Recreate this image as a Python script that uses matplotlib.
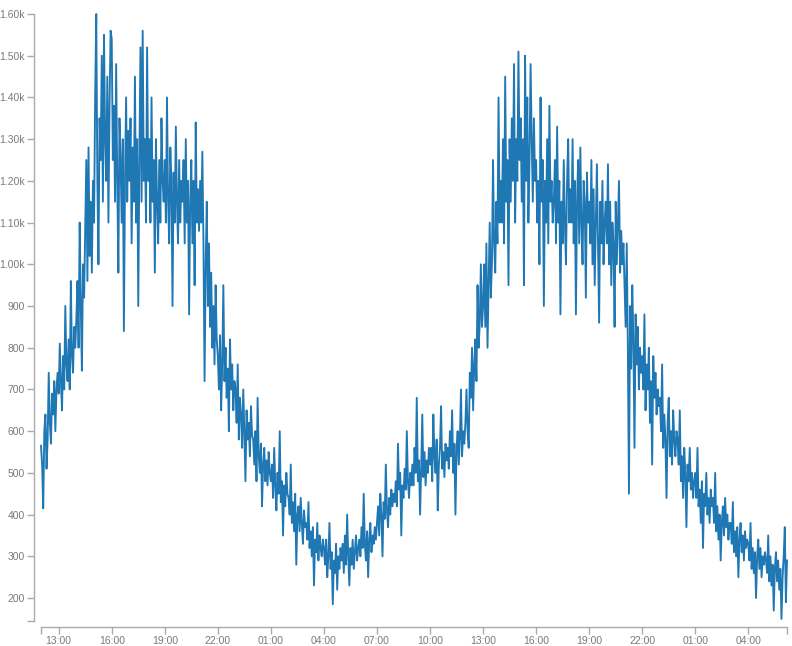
import pandas as pd
import matplotlib
matplotlib.use("Agg")
import matplotlib.pyplot as plt
import matplotlib.dates as mdates
from matplotlib.ticker import FuncFormatter, FixedLocator

# --- Configuration ---
OUTPUT_FILE = "out.png"
START_TIME = "2018-06-01 12:00"
STEP = "225s"  # one reading every 3.75 minutes
LINE_COLOR = "#1f77b4"
AXIS_COLOR = "#aaaaaa"
LABEL_COLOR = "#7a7a7a"

# --- Data (16 readings per hour) ---
day1_afternoon = [  # 12:00 - 18:00
    565, 520, 415, 600, 640, 510, 580, 740, 620, 570, 690, 640, 720, 600, 700, 740,
    690, 810, 720, 650, 780, 700, 900, 760, 720, 820, 700, 960, 780, 740, 850, 800,
    870, 960, 800, 1100, 900, 745, 1000, 920, 1080, 1250, 960, 1280, 1020, 1150, 980, 1200,
    1100, 1400, 1600, 1200, 1000, 1350, 1250, 1500, 1150, 1550, 1300, 1200, 1450, 1100, 1380, 1560,
    1540, 1250, 1380, 1150, 1480, 1200, 980, 1350, 1250, 1100, 1300, 840, 1200, 1400, 1150, 1320,
    1200, 1350, 1050, 1280, 1150, 1450, 1100, 1300, 900, 1250, 1520, 1150, 1560, 1200, 1300, 1100,
]
day1_evening = [  # 18:00 - 24:00
    1520, 1200, 1300, 1100, 1400, 1150, 1250, 980, 1300, 1150, 1050, 1250, 1100, 1350, 1200, 1150,
    1250, 1100, 1400, 1150, 1050, 1280, 1200, 900, 1220, 1100, 1330, 1150, 1050, 1250, 1100, 1200,
    1150, 1250, 1050, 1300, 1100, 1200, 880, 1150, 1250, 1050, 1200, 950, 1340, 1100, 1180, 1080,
    1200, 1100, 1270, 1050, 720, 1000, 1150, 900, 1050, 850, 980, 800, 900, 760, 950, 820,
    780, 700, 830, 650, 760, 950, 720, 800, 680, 750, 600, 820, 700, 760, 650, 720,
    700, 620, 760, 580, 680, 640, 560, 700, 600, 480, 650, 580, 620, 540, 660, 590,
]
night1 = [  # 00:00 - 06:00
    580, 520, 600, 480, 680, 540, 500, 570, 420, 520, 560, 480, 530, 470, 550, 500,
    480, 520, 440, 560, 470, 410, 500, 450, 600, 430, 480, 350, 470, 420, 500, 450,
    440, 400, 520, 380, 430, 360, 450, 280, 400, 420, 360, 440, 380, 330, 410, 370,
    380, 340, 430, 320, 360, 300, 370, 230, 340, 310, 380, 290, 350, 320, 300, 340,
    320, 280, 340, 250, 300, 380, 270, 310, 185, 290, 260, 330, 220, 300, 270, 320,
    290, 330, 260, 350, 280, 400, 300, 230, 320, 280, 340, 270, 310, 350, 290, 320,
]
day2_morning = [  # 06:00 - 12:00
    340, 300, 370, 320, 450, 330, 290, 360, 250, 340, 380, 310, 350, 330, 370, 340,
    380, 420, 350, 450, 400, 300, 430, 390, 520, 410, 370, 440, 400, 460, 420, 450,
    430, 480, 420, 570, 460, 500, 350, 470, 440, 510, 460, 600, 480, 440, 500, 470,
    520, 470, 560, 500, 680, 480, 530, 400, 510, 640, 490, 550, 470, 530, 500, 560,
    520, 560, 480, 640, 540, 500, 580, 410, 520, 560, 660, 510, 550, 490, 570, 530,
    560, 510, 600, 540, 650, 500, 570, 400, 560, 600, 520, 580, 700, 540, 600, 570,
]
day2_afternoon = [  # 12:00 - 18:00
    620, 700, 600, 560, 740, 680, 800, 650, 760, 820, 720, 950, 800, 860, 1000, 850,
    900, 1000, 850, 1050, 800, 950, 1100, 920, 1000, 1250, 1050, 980, 1150, 1050, 1400, 1100,
    1200, 1100, 1300, 1050, 1450, 1150, 1250, 950, 1300, 1150, 1350, 1200, 1480, 1100, 1300, 1200,
    1510, 1250, 1350, 1150, 1300, 950, 1500, 1200, 1400, 1100, 1250, 1480, 1300, 1150, 1350, 1200,
    1250, 1100, 1200, 1000, 1400, 1150, 1250, 900, 1200, 1100, 1300, 1050, 1380, 1150, 1200, 1100,
    1150, 1250, 1050, 1330, 1100, 1200, 880, 1150, 1050, 1250, 1100, 1000, 1200, 1300, 1100, 1180,
]
day2_evening = [  # 18:00 - 24:00
    1100, 1300, 1050, 1200, 880, 1150, 1250, 1050, 1280, 1100, 1000, 1200, 1150, 920, 1220, 1100,
    1150, 1050, 1250, 1000, 1180, 950, 1100, 1240, 1050, 860, 1150, 1050, 1200, 1000, 1100, 1150,
    1050, 1240, 1000, 1150, 950, 1100, 1050, 850, 1150, 1000, 1100, 1200, 980, 1080, 1000, 1050,
    950, 850, 1050, 800, 450, 900, 750, 950, 820, 560, 880, 760, 850, 700, 800, 740,
    780, 700, 880, 650, 760, 700, 800, 620, 720, 520, 780, 680, 740, 640, 700, 660,
    680, 600, 760, 560, 640, 580, 440, 620, 680, 540, 600, 520, 650, 580, 540, 600,
]
night2 = [  # 00:00 - 06:11
    580, 520, 650, 480, 540, 440, 560, 500, 370, 520, 480, 560, 460, 500, 440, 480,
    500, 440, 560, 420, 460, 380, 480, 320, 450, 420, 500, 400, 440, 380, 460, 420,
    440, 380, 500, 360, 420, 340, 400, 290, 380, 420, 350, 440, 370, 400, 340, 380,
    380, 330, 430, 310, 360, 300, 370, 250, 340, 380, 310, 350, 290, 360, 320, 340,
    330, 290, 380, 270, 320, 260, 310, 200, 300, 340, 270, 320, 250, 300, 280, 310,
    290, 260, 350, 240, 300, 230, 280, 170, 270, 310, 240, 290, 220, 270, 150, 250,
    300, 370, 190, 290,
]

Y_TICKS = [200, 300, 400, 500, 600, 700, 800, 900,
           1000, 1100, 1200, 1300, 1400, 1500, 1600]
X_TICK_HOURS = [1, 4, 7, 10, 13, 16, 19, 22]


def si_format(v, pos=None):
    """d3-style '.3s' labels: 900, 1.00k, 1.60k"""
    if v >= 1000:
        return f"{v / 1000:.2f}k"
    return f"{int(round(v))}"


def main():
    values = (day1_afternoon + day1_evening + night1 + day2_morning
              + day2_afternoon + day2_evening + night2)
    times = pd.date_range(START_TIME, periods=len(values), freq=STEP)
    df = pd.DataFrame({"time": times, "value": values})

    plt.rcParams["font.family"] = ["Liberation Sans", "DejaVu Sans"]
    fig = plt.figure(figsize=(7.92, 6.46), dpi=100)
    ax = fig.add_axes([41 / 792, 1 - 621 / 646, 746 / 792, 607 / 646])

    ax.plot(df["time"], df["value"], color=LINE_COLOR, linewidth=1.35,
            clip_on=False)

    ax.set_xlim(df["time"].iloc[0], df["time"].iloc[-1])
    ax.set_ylim(145, 1600)

    # d3 look: detached axes, grey lines, outer end ticks
    for side in ("top", "right"):
        ax.spines[side].set_visible(False)
    ax.spines["left"].set_position(("outward", 5))
    ax.spines["bottom"].set_position(("outward", 4))
    for side in ("left", "bottom"):
        ax.spines[side].set_color(AXIS_COLOR)
        ax.spines[side].set_linewidth(1.0)

    ax.yaxis.set_major_locator(FixedLocator(Y_TICKS))
    ax.yaxis.set_major_formatter(FuncFormatter(si_format))
    ax.yaxis.set_minor_locator(FixedLocator([145, 1600]))

    ax.xaxis.set_major_locator(mdates.HourLocator(byhour=X_TICK_HOURS))
    ax.xaxis.set_major_formatter(mdates.DateFormatter("%H:%M"))
    ax.xaxis.set_minor_locator(FixedLocator(
        [mdates.date2num(df["time"].iloc[0]), mdates.date2num(df["time"].iloc[-1])]))

    ax.tick_params(which="both", length=5, width=1.0, color=AXIS_COLOR)
    ax.tick_params(which="major", labelsize=7.5, labelcolor=LABEL_COLOR, pad=1.5)

    fig.savefig(OUTPUT_FILE, dpi=100)
    plt.close(fig)
    print(f"saved {OUTPUT_FILE} with {len(values)} points")


if __name__ == "__main__":
    main()
